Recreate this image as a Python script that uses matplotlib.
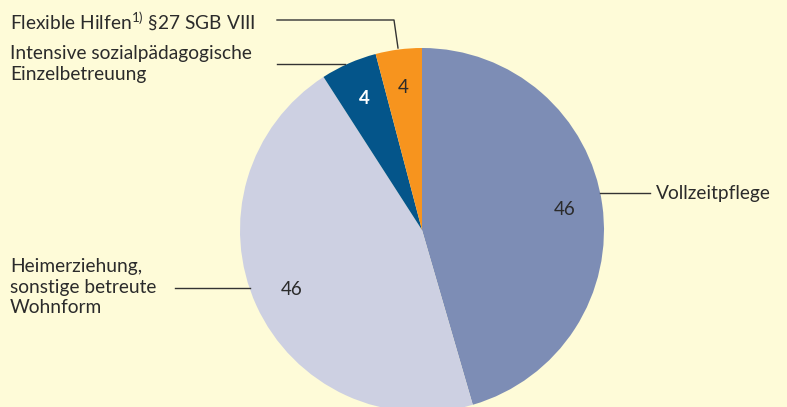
import numpy as np
import matplotlib.pyplot as plt

plt.rcParams['font.family'] = ['Lato', 'DejaVu Sans']
plt.rcParams['mathtext.fontset'] = 'custom'
plt.rcParams['mathtext.rm'] = 'Lato'

# shares in percent, clockwise from 12 o'clock
categories = ["Vollzeitpflege",
              "Heimerziehung,\nsonstige betreute\nWohnform",
              "Intensive sozialpädagogische\nEinzelbetreuung",
              r"Flexible Hilfen$^{\mathrm{1)}}$ §27 SGB VIII"]
values = [45.5, 45.4, 5.0, 4.1]
value_labels = ["46", "46", "4", "4"]
colors = ["#7d8db5", "#cdd0e2", "#04558a", "#f7941e"]
value_colors = ["#2b2b2b", "#2b2b2b", "white", "#2b2b2b"]
value_weights = ["normal", "normal", "bold", "normal"]

W, H = 787, 407
def Y(p):
    # pixel row -> data y
    return H - p

fig = plt.figure(figsize=(W / 100, H / 100), dpi=100)
fig.patch.set_facecolor("#fefbd8")
ax = fig.add_axes([0, 0, 1, 1])

cx, cy, r = 422, Y(230), 182
wedges, _ = ax.pie(values, colors=colors, startangle=90, counterclock=False,
                   center=(cx, cy), radius=r,
                   wedgeprops=dict(linewidth=0, antialiased=True))
ax.set_xlim(0, W)
ax.set_ylim(0, H)
ax.set_aspect("equal")
ax.axis("off")

# numbers inside the slices
for w, lab, c, fw in zip(wedges, value_labels, value_colors, value_weights):
    mid = np.deg2rad((w.theta1 + w.theta2) / 2)
    ax.text(cx + 0.79 * r * np.cos(mid), cy + 0.79 * r * np.sin(mid), lab,
            ha="center", va="center", fontsize=13.5, color=c, fontweight=fw)

txt = dict(fontsize=13.8, color="#2b2b2b", linespacing=1.22)
line = dict(color="#333333", lw=1.0)

# Vollzeitpflege
ax.plot([600, 650], [Y(193), Y(193)], **line)
ax.text(656, Y(193), categories[0], ha="left", va="center", **txt)

# Heimerziehung
ax.plot([175, 250], [Y(288), Y(288)], **line)
ax.text(10, Y(287), categories[1], ha="left", va="center", **txt)

# Intensive sozialpaedagogische Einzelbetreuung
ax.plot([277, 345], [Y(64), Y(64)], **line)
ax.text(10, Y(64), categories[2], ha="left", va="center", **txt)

# Flexible Hilfen
ax.plot([277, 394, 398], [Y(20), Y(20), Y(48)], **line)
ax.text(10, Y(21), categories[3], ha="left", va="center", **txt)

fig.savefig("out.png", dpi=100, facecolor=fig.get_facecolor())
